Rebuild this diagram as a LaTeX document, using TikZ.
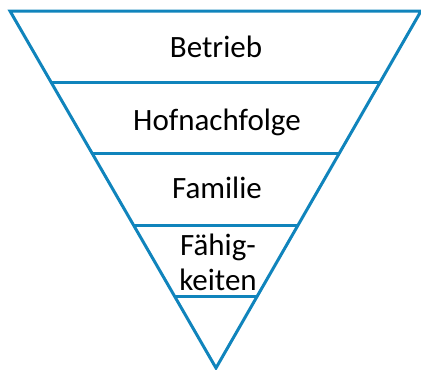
\documentclass[tikz,border=0pt]{standalone}
\usepackage{fontspec}
\setmainfont{Carlito}
\usetikzlibrary{calc}
\definecolor{lineblue}{RGB}{16,132,188}
\begin{document}
\begin{tikzpicture}[x=1pt,y=-1pt,
  edge/.style={draw=lineblue,line width=3pt},
  lbl/.style={anchor=base,inner sep=0pt,font=\fontsize{31}{35}\selectfont,text=black,align=center}]
\useasboundingbox (0,0) rectangle (421,370);
\coordinate (A) at (10,11);
\coordinate (B) at (421,11);
\coordinate (C) at (216,368);
\draw[edge,line join=miter] (A) -- (B) -- (C) -- cycle;
\foreach \t/\n in {0.2/1,0.4/2,0.6/3,0.8/4}{
  \coordinate (L\n) at ($(A)!\t!(C)$);
  \coordinate (R\n) at ($(B)!\t!(C)$);
  \draw[edge] (L\n) -- (R\n);
}
\node[lbl] (betrieb) at (216,57) {Betrieb};
\node[lbl] (hof) at (217,130) {Hofnachfolge};
\node[lbl] (fam) at (217,198) {Familie};
\node[lbl] (faeh) at (218,290) {Fähig-\\keiten};
\end{tikzpicture}
\end{document}
